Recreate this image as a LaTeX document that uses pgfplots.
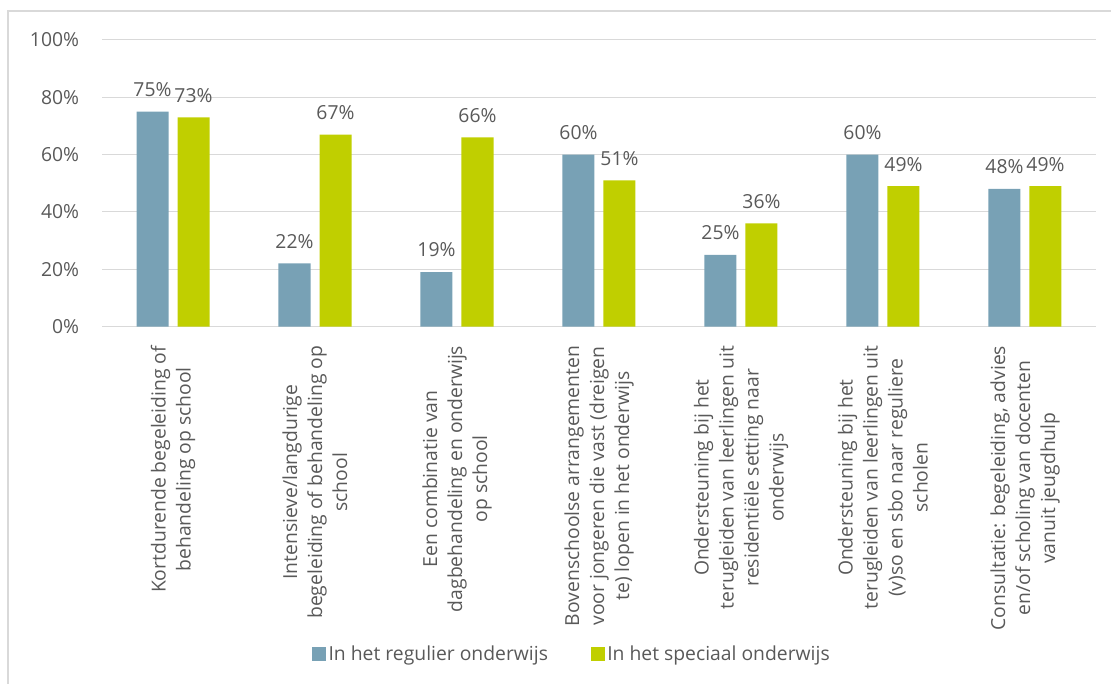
\documentclass[border=0pt]{standalone}
\usepackage{fontspec}
\setmainfont{Open Sans}
\usepackage{pgfplots}
\pgfplotsset{compat=1.18}
\definecolor{regblue}{HTML}{78A1B5}
\definecolor{speclime}{HTML}{C0CF00}
\definecolor{txtgray}{HTML}{595959}
\definecolor{gridgray}{HTML}{D9D9D9}

\begin{document}
\begin{tikzpicture}
\useasboundingbox (0,0) rectangle (833.25pt,513pt);
% outer chart frame (right and bottom edges fall outside the picture)
\draw[gridgray, line width=1.1pt] (6pt,-10pt) -- (6pt,504.75pt) -- (840pt,504.75pt);
\begin{axis}[
    at={(76.5pt,268.1pt)}, anchor=south west,
    scale only axis,
    width=745.5pt, height=214.9pt,
    font=\fontsize{14.5pt}{18.75pt}\selectfont,
    ybar=6.75pt, bar width=24pt,
    xmin=-0.5, xmax=6.5,
    ymin=0, ymax=100,
    xtick={0,...,6},
    xticklabels={
        {Kortdurende begeleiding of\\behandeling op school},
        {Intensieve/langdurige\\begeleiding of behandeling op\\school},
        {Een combinatie van\\dagbehandeling en onderwijs\\op school},
        {Bovenschoolse arrangementen\\voor jongeren die vast (dreigen\\te) lopen in het onderwijs},
        {Ondersteuning bij het\\terugleiden van leerlingen uit\\residentiële setting naar\\onderwijs},
        {Ondersteuning bij het\\terugleiden van leerlingen uit\\(v)so en sbo naar reguliere\\scholen},
        {Consultatie: begeleiding, advies\\en/of scholing van docenten\\vanuit jeugdhulp}},
    xticklabel style={yshift=-10pt, rotate=90, anchor=east, align=center, inner sep=0pt, text=txtgray},
    ytick={0,20,40,60,80,100},
    yticklabels={0\%,20\%,40\%,60\%,80\%,100\%},
    yticklabel style={inner sep=0pt, xshift=-17pt, text=txtgray},
    ymajorgrids=true,
    grid style={gridgray, line width=0.75pt},
    axis line style={draw=none},
    tick style={draw=none},
    nodes near coords={\pgfmathprintnumber[assume math mode=true]{\pgfplotspointmeta}\%},
    nodes near coords style={text=txtgray, anchor=south, inner sep=0pt, yshift=11pt},
    legend columns=2,
    legend style={at={(0.473,-1.143)}, anchor=center, draw=none, fill=none,
        text=txtgray, inner sep=0pt,
        /tikz/every even column/.append style={column sep=30pt}},
    legend cell align=left,
    legend image code/.code={\fill[#1] (0pt,-5.25pt) rectangle (10.5pt,5.25pt);},
]
\addplot[fill=regblue, draw=none] coordinates {
    (0,75) (1,22) (2,19) (3,60) (4,25) (5,60) (6,48)};
\addplot[fill=speclime, draw=none] coordinates {
    (0,73) (1,67) (2,66) (3,51) (4,36) (5,49) (6,49)};
\legend{In het regulier onderwijs, In het speciaal onderwijs}
\end{axis}
\end{tikzpicture}
\end{document}
